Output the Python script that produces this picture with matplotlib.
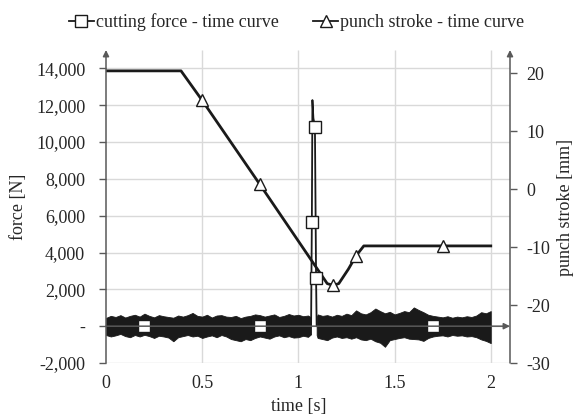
import matplotlib; matplotlib.use("Agg")
import matplotlib.pyplot as plt
from matplotlib.lines import Line2D

plt.rcParams['font.family'] = ['Liberation Serif', 'DejaVu Serif']
plt.rcParams['font.size'] = 13

INK = "#1a1a1a"; AXC = "#595959"; GRID = "#d9d9d9"; TXT = "#262626"

# cutting force trace [N]: baseline + spike at cut-through
force_t = [0, 0.20, 0.80, 1.066, 1.070, 1.073, 1.078, 1.086, 1.092, 1.095, 1.70, 2.00]
force_n = [0, 0, 0, 0, 5670, 12280, 11300, 10830, 2600, 0, 0, 0]
force_marks = [1, 2, 4, 7, 8, 10]

# signal noise around zero, read as upper / lower envelope [N]
noise_t1 = [0, 0.025, 0.05, 0.075, 0.10, 0.125, 0.15, 0.175, 0.20, 0.225,
            0.25, 0.275, 0.30, 0.325, 0.35, 0.375, 0.40, 0.425, 0.45, 0.475,
            0.50, 0.525, 0.55, 0.575, 0.60, 0.625, 0.65, 0.675, 0.70, 0.725,
            0.75, 0.775, 0.80, 0.825, 0.85, 0.875, 0.90, 0.925, 0.95, 0.975,
            1.00, 1.025, 1.05, 1.066]
noise_up1 = [450, 560, 500, 600, 470, 560, 620, 520, 680, 560,
             480, 600, 540, 500, 460, 580, 520, 600, 720, 560,
             520, 620, 470, 580, 600, 520, 500, 560, 440, 520,
             560, 640, 600, 520, 580, 640, 500, 560, 660, 580,
             620, 540, 580, 480]
noise_lo1 = [-480, -560, -500, -420, -540, -600, -480, -560, -470, -540,
             -640, -520, -560, -620, -820, -600, -540, -480, -560, -520,
             -640, -560, -500, -600, -480, -560, -700, -760, -820, -700,
             -760, -640, -560, -620, -680, -560, -500, -600, -540, -620,
             -600, -520, -580, -440]
noise_t2 = [1.095, 1.10, 1.125, 1.15, 1.175, 1.20, 1.225, 1.25, 1.275, 1.30,
            1.325, 1.35, 1.375, 1.40, 1.425, 1.45, 1.475, 1.50, 1.525, 1.55,
            1.575, 1.60, 1.625, 1.65, 1.675, 1.70, 1.725, 1.75, 1.775, 1.80,
            1.825, 1.85, 1.875, 1.90, 1.925, 1.95, 1.975, 2.00]
noise_up2 = [480, 640, 560, 600, 520, 620, 560, 680, 600, 860,
             700, 640, 760, 960, 820, 700, 780, 640, 720, 820,
             760, 1020, 880, 760, 620, 560, 520, 480, 540, 460,
             520, 480, 540, 500, 580, 760, 700, 820]
noise_lo2 = [-480, -640, -700, -760, -620, -560, -640, -600, -680, -600,
             -720, -760, -680, -820, -900, -1120, -760, -700, -640, -600,
             -680, -700, -720, -800, -640, -560, -520, -500, -560, -480,
             -520, -500, -560, -540, -600, -720, -800, -920]

# punch stroke [mm]
stroke_t = [0, 0.39, 0.50, 0.80, 1.15, 1.18, 1.21, 1.26, 1.30, 1.34, 1.75, 2.00]
stroke_mm = [20.4, 20.4, 15.3, 0.8, -16.3, -16.6, -16.3, -13.8, -11.5, -9.8, -9.8, -9.8]
stroke_marks = [2, 3, 5, 8, 10]

force_ticks = [-2000, 0, 2000, 4000, 6000, 8000, 10000, 12000, 14000]
force_labels = ["-2,000", "-", "2,000", "4,000", "6,000", "8,000", "10,000", "12,000", "14,000"]
stroke_ticks = [-30, -20, -10, 0, 10, 20]
stroke_labels = ["-30", "-20", "-10", "0", "10", "20"]
time_ticks = [0, 0.5, 1, 1.5, 2]
time_labels = ["0", "0.5", "1", "1.5", "2"]

fig = plt.figure(figsize=(5.77, 4.18), dpi=100)
ax = fig.add_axes([106/577, 55/418, 404/577, 313/418])
ax2 = ax.twinx()
ax.set_zorder(2); ax2.set_zorder(1); ax.patch.set_visible(False)

ax.set_xlim(0, 2.1); ax.set_ylim(-2000, 15000); ax2.set_ylim(-30, 24)

# grid (on the back axes so lines sit above it)
ax2.hlines(force_ticks, 0, 2.1, transform=ax.transData, colors=GRID, lw=1, zorder=0)
ax2.vlines(time_ticks[1:], 0, 1, transform=ax2.get_xaxis_transform(), colors=GRID, lw=1, zorder=0)

# force
ax.fill_between(noise_t1, noise_lo1, noise_up1, color=INK, lw=0.6, zorder=2)
ax.fill_between(noise_t2, noise_lo2, noise_up2, color=INK, lw=0.6, zorder=2)
ax.plot(force_t, force_n, color=INK, lw=1.3, marker="s", markevery=force_marks,
        ms=8, mfc="white", mec=INK, mew=1, zorder=3)

# stroke
ax2.plot(stroke_t, stroke_mm, color=INK, lw=2, marker="^", markevery=stroke_marks,
         ms=8, mfc="white", mec=INK, mew=1, zorder=3)

for s in list(ax.spines.values()) + list(ax2.spines.values()):
    s.set_visible(False)
arr = dict(arrowstyle="-|>", color=AXC, lw=1.1, mutation_scale=9, shrinkA=0, shrinkB=0)
ax.annotate("", xy=(0, 1), xytext=(0, 0), xycoords="axes fraction", arrowprops=arr)
ax.annotate("", xy=(1, 1), xytext=(1, 0), xycoords="axes fraction", arrowprops=arr)
ax.annotate("", xy=(1, 0), xytext=(0, 0), xycoords=ax.get_yaxis_transform(), arrowprops=arr)

ax.set_yticks(force_ticks); ax.set_yticklabels(force_labels)
ax.set_xticks(time_ticks); ax.set_xticklabels(time_labels)
ax2.set_yticks(stroke_ticks); ax2.set_yticklabels(stroke_labels)
ax.tick_params(axis="y", direction="out", length=5, width=1, color=AXC, pad=10, labelcolor=TXT)
ax.tick_params(axis="x", length=0, pad=9, labelcolor=TXT)
ax2.tick_params(axis="y", direction="out", length=5, width=1, color=AXC, pad=6.5, labelcolor=TXT)

fig.text(18/577, 1 - 207/418, "force [N]", rotation=90, ha="center", va="center", color=TXT)
fig.text(566/577, 1 - 207/418, "punch stroke [mm]", rotation=90, ha="center", va="center", color=TXT)
fig.text(299/577, 1 - 407/418, "time [s]", ha="center", va="center", color=TXT)

handles = [Line2D([], [], color=INK, lw=1.3, marker="s", ms=8, mfc="white", mec=INK, mew=1),
           Line2D([], [], color=INK, lw=1.3, marker="^", ms=8, mfc="white", mec=INK, mew=1)]
fig.legend(handles, ["cutting force - time curve", "punch stroke - time curve"],
           loc="center", bbox_to_anchor=(0.514, 0.947), ncol=2, frameon=False,
           handlelength=1.4, handletextpad=0.1, columnspacing=1.9, labelcolor=TXT)

fig.savefig("out.png", dpi=100)
